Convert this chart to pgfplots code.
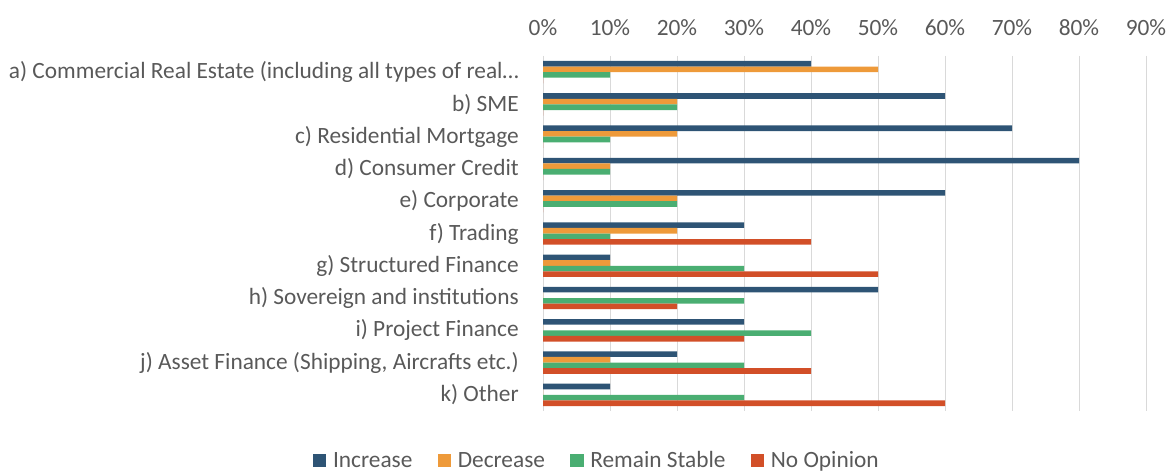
\documentclass[border=0pt]{standalone}
\usepackage{fontspec}
\setmainfont{Carlito}
\usepackage{pgfplots}
\usepackage{pgfplotstable}
\pgfplotsset{compat=1.18}

\definecolor{cInc}{HTML}{2E5475}
\definecolor{cDec}{HTML}{EE9A3A}
\definecolor{cSta}{HTML}{4AAE72}
\definecolor{cNop}{HTML}{D24F28}
\definecolor{txt}{HTML}{595959}
\definecolor{grd}{HTML}{D9D9D9}

% shares in percent, one row per category (0 = a at the top)
\pgfplotstableread{
y  inc dec sta nop
0  40  50  10  0
1  60  20  20  0
2  70  20  10  0
3  80  10  10  0
4  60  20  20  0
5  30  20  10  40
6  10  10  30  50
7  50  0   30  20
8  30  0   40  30
9  20  10  30  40
10 10  0   30  60
}\shares

\begin{document}
\begin{tikzpicture}[font=\fontsize{17.5}{21}\selectfont]
  \begin{axis}[
      name=main,
      scale only axis,
      width=452.25pt, height=266.25pt,
      xbar, bar width=4.2pt,
      xmin=0, xmax=90,
      ymin=-0.5, ymax=10.5,
      y dir=reverse,
      xtick={0,10,...,90},
      xticklabels={0\%,10\%,20\%,30\%,40\%,50\%,60\%,70\%,80\%,90\%},
      xticklabel pos=upper,
      xticklabel style={anchor=base, inner sep=0pt, yshift=15.5pt},
      ytick={0,...,10},
      yticklabels={
        {a) Commercial Real Estate (including all types of real…},
        {b) SME},
        {c) Residential Mortgage},
        {d) Consumer Credit},
        {e) Corporate},
        {f) Trading},
        {g) Structured Finance},
        {h) Sovereign and institutions},
        {i) Project Finance},
        {j) Asset Finance (Shipping, Aircrafts etc.)},
        {k) Other}},
      yticklabel style={anchor=east, inner sep=0pt, xshift=-18pt},
      tick label style={text=txt},
      major tick length=0pt,
      axis line style={draw=none},
      xmajorgrids,
      major grid style={draw=grd, line width=0.75pt},
      legend columns=4,
      legend style={at={(axis description cs:0.090,-0.140)}, anchor=center,
        draw=none, fill=none, text=txt, inner sep=0pt,
        /tikz/every even column/.append style={column sep=17pt},
        /tikz/every odd column/.append style={column sep=3pt}},
      legend image code/.code={\fill[#1] (0pt,-5pt) rectangle (10pt,5pt);},
    ]
    \addplot[fill=cInc, draw=none, bar shift=6.3pt] table[x=inc, y=y] {\shares};
    \addplot[fill=cDec, draw=none, bar shift=2.1pt] table[x=dec, y=y] {\shares};
    \addplot[fill=cSta, draw=none, bar shift=-2.1pt] table[x=sta, y=y] {\shares};
    \addplot[fill=cNop, draw=none, bar shift=-6.3pt] table[x=nop, y=y] {\shares};
    \legend{Increase, Decrease, Remain Stable, No Opinion}
  \end{axis}
  \pgfresetboundingbox
  \path[use as bounding box] ([xshift=-407.25pt, yshift=-46.5pt]main.south west)
    rectangle ([xshift=17.25pt, yshift=42pt]main.north east);
\end{tikzpicture}
\end{document}
